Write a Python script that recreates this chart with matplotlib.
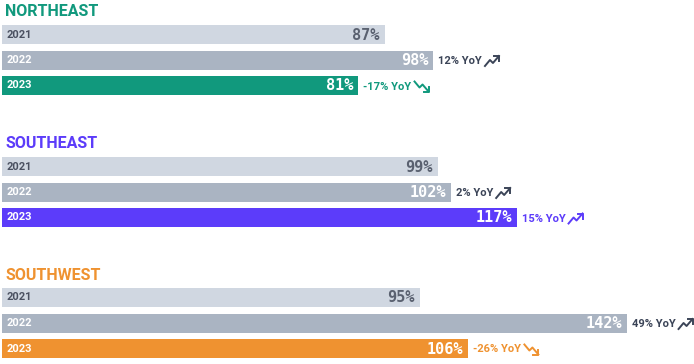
import matplotlib
matplotlib.use("Agg")
import matplotlib.pyplot as plt
from matplotlib.lines import Line2D
from matplotlib.transforms import IdentityTransform

regions = ["NORTHEAST", "SOUTHEAST", "SOUTHWEST"]
region_colors = ["#11997d", "#5c3cfa", "#ef9230"]
years = ["2021", "2022", "2023"]
values = [[87, 98, 81], [99, 102, 117], [95, 142, 106]]
yoy = [[None, 12, -17], [None, 2, 15], [None, 49, -26]]

W, H = 694, 364
fig = plt.figure(figsize=(W / 100, H / 100), dpi=100)
ax = fig.add_axes([0, 0, 1, 1])
px = 4.4  # pixels per percent
x0 = 2
ax.set_xlim(-x0 / px, (W - x0) / px)
ax.set_ylim(H, 0)
ax.axis("off")

gray_light = "#d0d7e1"
gray_mid = "#aab4c2"
dark = "#3b4457"

group_top = [12, 144, 275]
bar_h = 19
step = 25.5

label_items = []
for g, region in enumerate(regions):
    ax.text(3 / px, group_top[g], region, fontsize=11.5, fontweight="bold",
            family="Roboto", color=region_colors[g], va="center", ha="left")
    for i, yr in enumerate(years):
        yc = group_top[g] + 22.5 + i * step
        col = [gray_light, gray_mid, region_colors[g]][i]
        v = values[g][i]
        ax.barh(yc, v, height=bar_h, left=0, color=col, edgecolor="none")
        ycol = "#4a5060" if i == 0 else "white"
        ax.text(5 / px, yc, yr, fontsize=8, fontweight="bold", family="Roboto",
                color=ycol, va="center", ha="left")
        ax.text(v - 5 / px, yc + 0.5, f"{v}%", fontsize=11, fontweight="bold",
                family="DejaVu Sans Mono", color="#5a6170" if i == 0 else "white",
                va="center", ha="right")
        if yoy[g][i] is not None:
            tc = dark if i == 1 else region_colors[g]
            t = ax.text(v + 5 / px, yc + 1, f"{yoy[g][i]}% YoY", fontsize=8,
                        fontweight="bold", family="Roboto", color=tc,
                        va="center", ha="left")
            label_items.append((t, yoy[g][i] > 0, tc))

fig.canvas.draw()
renderer = fig.canvas.get_renderer()
for t, up, tc in label_items:
    bb = t.get_window_extent(renderer)
    bx = bb.x1 + 3
    by = (bb.y0 + bb.y1) / 2 - 5
    if up:
        xs = [0, 5, 8, 14]
        ys = [0, 6, 3, 10]
        hx = [9, 14, 14]
        hy = [10, 10, 5]
    else:
        xs = [0, 5, 8, 14]
        ys = [10, 4, 7, 0]
        hx = [9, 14, 14]
        hy = [0, 0, 5]
    fig.add_artist(Line2D([bx + a for a in xs], [by + b for b in ys], color=tc,
                          lw=1.4, transform=IdentityTransform()))
    fig.add_artist(Line2D([bx + a for a in hx], [by + b for b in hy], color=tc,
                          lw=1.4, transform=IdentityTransform()))

fig.savefig("out.png", dpi=100)
